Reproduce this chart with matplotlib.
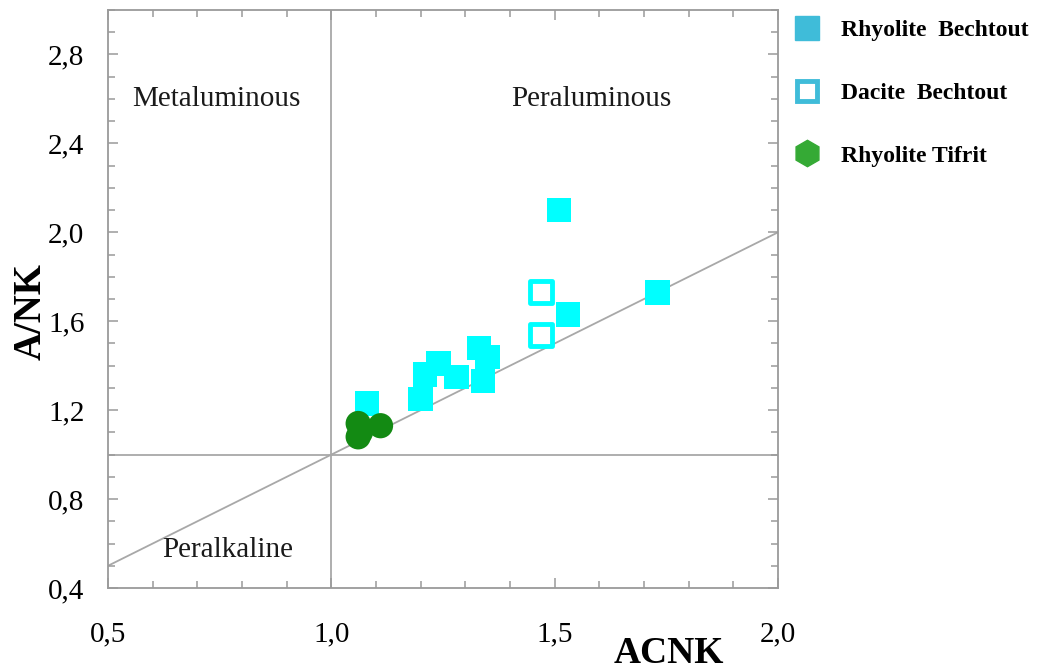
import matplotlib
matplotlib.use("Agg")
import matplotlib.pyplot as plt
from matplotlib.ticker import MultipleLocator, FixedLocator
from matplotlib.lines import Line2D

# ACNK vs A/NK (Shand index) for the Bechtout and Tifrit volcanics
rhy_bechtout_acnk = [1.51, 1.73, 1.53, 1.08, 1.20, 1.21, 1.24, 1.28, 1.33, 1.35, 1.34]
rhy_bechtout_ank = [2.10, 1.73, 1.63, 1.23, 1.25, 1.36, 1.41, 1.35, 1.48, 1.44, 1.33]

dac_bechtout_acnk = [1.47, 1.47]
dac_bechtout_ank = [1.73, 1.54]

rhy_tifrit_acnk = [1.06, 1.06, 1.065, 1.11]
rhy_tifrit_ank = [1.14, 1.08, 1.10, 1.13]

x_ticks = [0.5, 1.0, 1.5, 2.0]
x_tick_labels = ["0,5", "1,0", "1,5", "2,0"]
y_ticks = [0.4, 0.8, 1.2, 1.6, 2.0, 2.4, 2.8]
y_tick_labels = ["0,4", "0,8", "1,2", "1,6", "2,0", "2,4", "2,8"]

series_names = ["Rhyolite  Bechtout", "Dacite  Bechtout", "Rhyolite Tifrit"]

serif = ["Liberation Serif", "DejaVu Serif"]

fig = plt.figure(figsize=(10.53, 6.7), dpi=100)
ax = fig.add_axes([0.1026, 0.1224, 0.6363, 0.8627])

ax.set_xlim(0.5, 2.0)
ax.set_ylim(0.4, 3.0)

# field boundaries
line_col = "#a8a8a8"
ax.axvline(1.0, color=line_col, lw=1.3, zorder=1)
ax.axhline(1.0, color=line_col, lw=1.3, zorder=1)
ax.plot([0.5, 2.0], [0.5, 2.0], color=line_col, lw=1.3, zorder=1)

cyan = "#00ffff"
green = "#138a13"
ax.scatter(rhy_bechtout_acnk, rhy_bechtout_ank, marker="s", s=310,
           color=cyan, edgecolors="none", zorder=3)
ax.scatter(dac_bechtout_acnk, dac_bechtout_ank, marker="s", s=260,
           facecolors="white", edgecolors=cyan, linewidths=3.5, zorder=3)
ax.scatter(rhy_tifrit_acnk, rhy_tifrit_ank, marker="o", s=330,
           color=green, edgecolors="none", zorder=4)

# field names
ax.text(0.742, 2.60, "Metaluminous", fontsize=21, family=serif,
        ha="center", va="center", color="#1a1a1a")
ax.text(1.583, 2.60, "Peraluminous", fontsize=21, family=serif,
        ha="center", va="center", color="#1a1a1a")
ax.text(0.768, 0.57, "Peralkaline", fontsize=21, family=serif,
        ha="center", va="center", color="#1a1a1a")

# axes styling
for sp in ax.spines.values():
    sp.set_color("#9a9a9a")
    sp.set_linewidth(1.3)

ax.xaxis.set_major_locator(FixedLocator(x_ticks))
ax.yaxis.set_major_locator(FixedLocator(y_ticks))
ax.xaxis.set_minor_locator(MultipleLocator(0.1))
ax.yaxis.set_minor_locator(MultipleLocator(0.1))
ax.set_xticklabels(x_tick_labels, family=serif, fontsize=21)
ax.set_yticklabels(y_tick_labels, family=serif, fontsize=21)
ax.tick_params(which="both", direction="in", top=True, right=True,
               color="#9a9a9a", width=1.1)
ax.tick_params(which="major", length=7)
ax.tick_params(which="minor", length=5)
ax.tick_params(axis="x", which="major", pad=24)
ax.tick_params(axis="y", which="major", pad=17)

fig.text(0.030, 0.535, "A/NK", family=serif, fontsize=28, fontweight="bold",
         rotation=90, ha="center", va="center")
fig.text(0.635, 0.024, "ACNK", family=serif, fontsize=27, fontweight="bold",
         ha="center", va="center")

# legend outside the plot
handles = [
    Line2D([], [], marker="s", ls="none", markersize=17,
           markerfacecolor="#3fbcd9", markeredgecolor="#3fbcd9"),
    Line2D([], [], marker="s", ls="none", markersize=15,
           markerfacecolor="white", markeredgecolor="#3fbcd9", markeredgewidth=3.5),
    Line2D([], [], marker="h", ls="none", markersize=19,
           markerfacecolor="#35aa35", markeredgecolor="#35aa35"),
]
leg = fig.legend(handles, series_names, loc="upper left",
                 bbox_to_anchor=(0.746, 0.985), frameon=False,
                 prop={"family": serif, "size": 17, "weight": "bold"},
                 labelspacing=1.75, handletextpad=0.95, handlelength=1.0,
                 borderaxespad=0)

fig.savefig("out.png", dpi=100)
